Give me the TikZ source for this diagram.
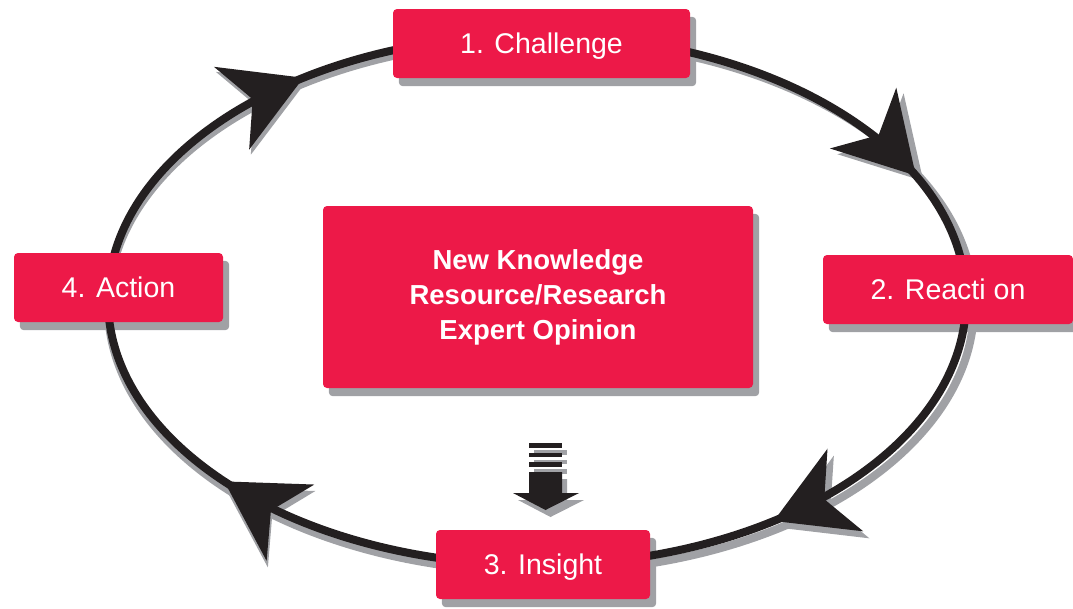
\documentclass[tikz,border=0pt]{standalone}
\usepackage{fontspec}
\setmainfont{Liberation Sans}
\usetikzlibrary{arrows.meta,calc}
\definecolor{cyred}{RGB}{237,25,72}
\definecolor{cyshade}{RGB}{160,161,165}
\definecolor{cyink}{RGB}{35,31,32}
\pgfdeclarelayer{shade}
\pgfdeclarelayer{ring}
\pgfsetlayers{shade,ring,main}

% arrowhead on the ring: #1 = angle of the tip, #2 = colour, #3 = centre, #4/#5 = radii
\newcommand\ringtip[5]{%
  \draw[#2, line width=0.1pt,
        -{Stealth[length=78pt, width=90pt, inset=23pt, line width=0pt]}]
    ($#3+({#4*cos(#1-3)},{#5*sin(#1-3)})$) --
    ($#3+({#4*cos(#1)},{#5*sin(#1)})$);}

\begin{document}
\begin{tikzpicture}[x=1pt, y=-1pt,
  stepbox/.style={fill=cyred, rounded corners=4pt, text=white, inner sep=0pt,
                  minimum height=69pt, text height=20.4pt, text depth=0pt,
                  font=\fontsize{28.5}{34}\selectfont},
  corebox/.style={fill=cyred, rounded corners=4pt, text=white, inner sep=0pt,
                  align=center, font=\fontsize{27.5}{35}\selectfont\bfseries},
  ringline/.style={line width=8pt}]
\useasboundingbox (0,0) rectangle (1073,608);

% stages of the cycle
\node[stepbox, minimum width=297pt] (ch) at (541.5,43.5) {1. Challenge};
\node[stepbox, minimum width=250pt] (re) at (948,289.5) {2. Reacti on};
\node[stepbox, minimum width=214pt] (in) at (543,564.5) {3. Insight};
\node[stepbox, minimum width=209pt] (ac) at (118.5,287.5) {4. Action};
\node[corebox, minimum width=430pt, minimum height=182pt] (kb) at (538,297)
  {New Knowledge\\Resource/Research\\Expert Opinion};

% box shadows
\begin{pgfonlayer}{shade}
  \foreach \n in {ch,re,in,ac,kb}
    \fill[cyshade, rounded corners=4pt]
      ($(\n.north west)+(6,8)$) rectangle ($(\n.south east)+(6,8)$);
\end{pgfonlayer}

% the ring with its arrowheads
\coordinate (o) at (537,300);
\coordinate (os) at (541,306);
\begin{pgfonlayer}{ring}
  \draw[cyshade, ringline] (os) ellipse [x radius=433, y radius=266];
  \foreach \a in {237,332,56.5,136.8} \ringtip{\a}{cyshade}{(os)}{433}{266};
  \draw[cyink, ringline] (o) ellipse [x radius=429, y radius=265];
  \foreach \a in {237,332,56.5,136.8} \ringtip{\a}{cyink}{(o)}{429}{265};
\end{pgfonlayer}

% small downward marker under the centre box
\foreach \c/\dx/\dy in {cyshade/5/7, cyink/0/0} {
  \begin{scope}[shift={(\dx,\dy)}]
    \fill[\c] (529,443) rectangle (562,447.5);
    \fill[\c] (529,452.5) rectangle (562,457);
    \fill[\c] (529,462) rectangle (562,466.5);
    \fill[\c] (529,472) -- (562,472) -- (562,493) -- (579,493)
              -- (545.5,510) -- (513,493) -- (529,493) -- cycle;
  \end{scope}
}
\end{tikzpicture}
\end{document}
